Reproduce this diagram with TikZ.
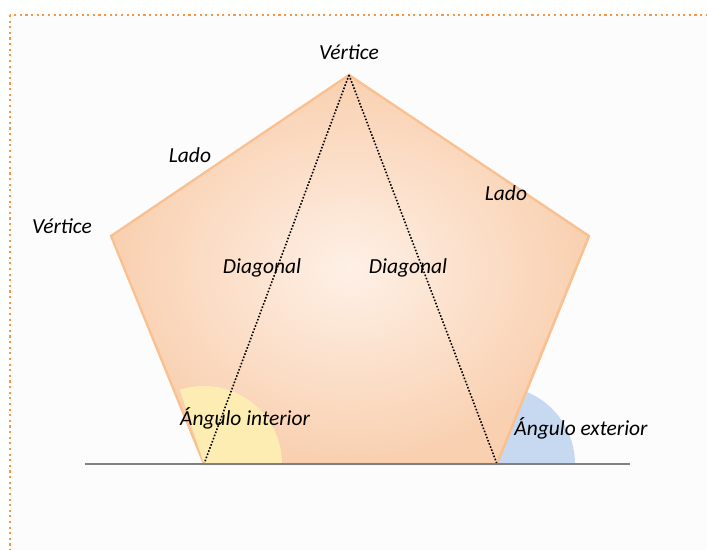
\documentclass[tikz,border=0pt]{standalone}
\usepackage{fontspec}
\setmainfont{Carlito}
\usetikzlibrary{calc}

\begin{document}
\begin{tikzpicture}[x=0.02cm, y=-0.02cm, font=\fontsize{12.2}{14}\selectfont\itshape]
    \definecolor{C0}{HTML}{F79646}
    \definecolor{C1}{HTML}{FAC090}
    \definecolor{C2}{HTML}{FEF0E6}
    \definecolor{C3}{HTML}{F9D0B0}
    \definecolor{C4}{HTML}{FDEDB3}
    \definecolor{C5}{HTML}{C6D9F1}
    \definecolor{C6}{HTML}{808080}

    \useasboundingbox (0,0) rectangle (707,550);
    \clip (0,0) rectangle (707,550);

    \path[fill=black!1, draw=C0, line width=1.2pt, dotted] (10,15) rectangle (730,580);

    \coordinate (top) at (349,75);
    \coordinate (left) at (111,236);
    \coordinate (right) at (589,236);
    \coordinate (bl) at (204,464);
    \coordinate (br) at (497,464);
    \coordinate (base0) at (85,464);
    \coordinate (base1) at (630,464);

    \path[draw=C1, line width=1.3pt, inner color=C2, outer color=C3] (top) -- (right) -- (br) -- (bl) -- (left) -- cycle;

    \path[fill=C4] (bl) -- ($ (bl) + (78,0) $) arc[start angle=0, end angle=-108, radius=78] -- cycle;
    \path[fill=C5] (br) -- ($ (br) + (78,0) $) arc[start angle=0, end angle=-68, radius=78] -- cycle;
    \path[draw=C1, line width=1.3pt] (br) -- (right);

    \path[draw=black, line width=0.9pt, densely dotted] (top) -- (bl);
    \path[draw=black, line width=0.9pt, densely dotted] (top) -- (br);

    \path[draw=C6, line width=1pt] (base0) -- (base1);

    \node (vtop) at (349,52) {Vértice};
    \node (vleft) at (62,226) {Vértice};
    \node (lado1) at (190,155) {Lado};
    \node (lado2) at (506,193) {Lado};
    \node (diag1) at (262,268) {Diagonal};
    \node (diag2) at (408,268) {Diagonal};
    \node (angint) at (245,418) {Ángulo interior};
    \node (angext) at (581,428) {Ángulo exterior};
\end{tikzpicture}
\end{document}
